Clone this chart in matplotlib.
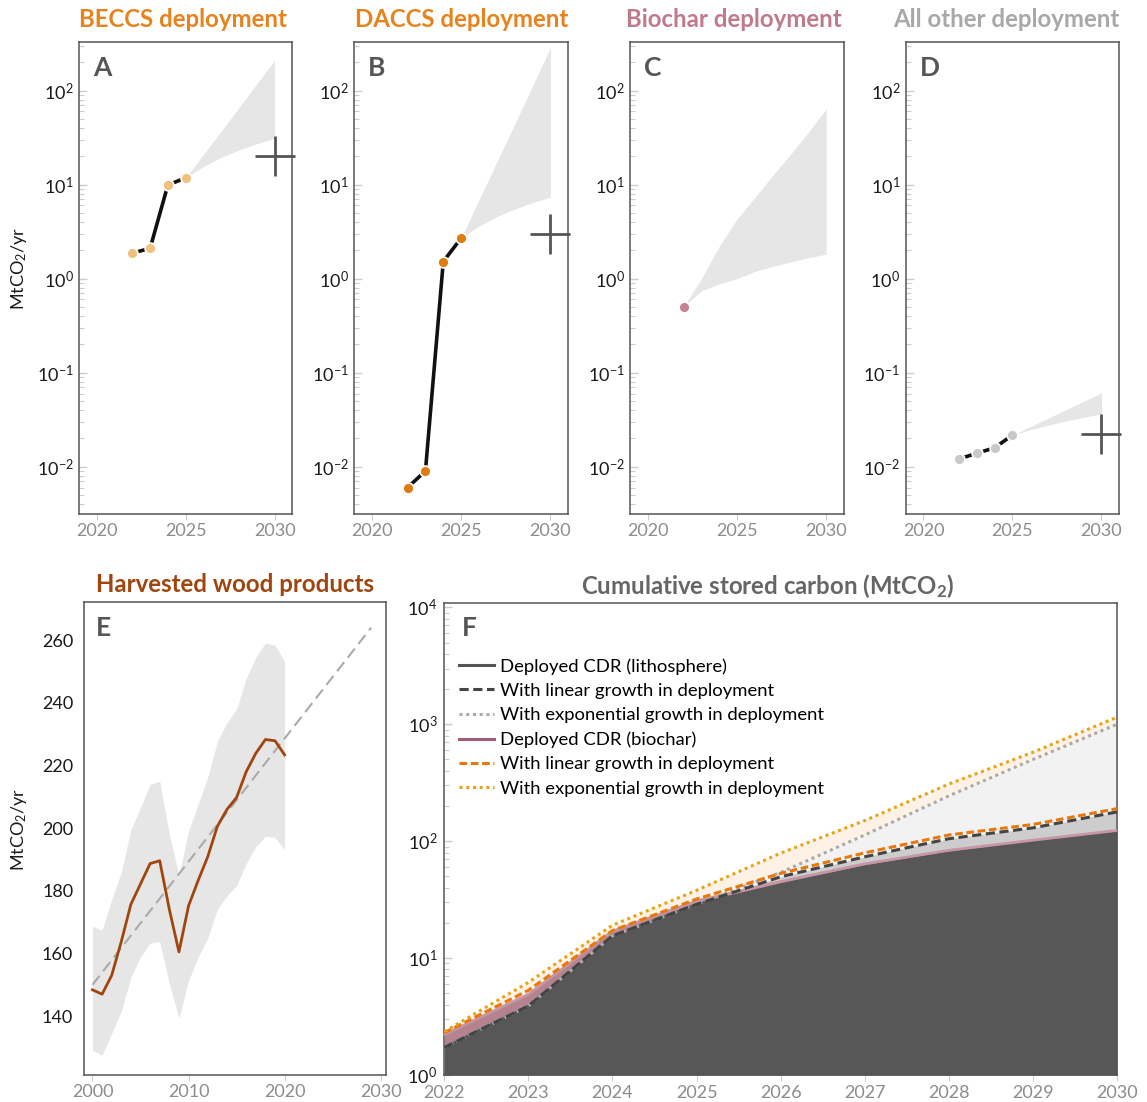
import numpy as np
import matplotlib
matplotlib.use('Agg')
import matplotlib.pyplot as plt
from matplotlib.ticker import LogLocator, NullFormatter
from matplotlib.lines import Line2D

plt.rcParams['font.family'] = ['Lato', 'DejaVu Sans']
plt.rcParams['mathtext.fontset'] = 'custom'
plt.rcParams['mathtext.rm'] = 'Lato'
plt.rcParams['mathtext.it'] = 'Lato:italic'
plt.rcParams['mathtext.bf'] = 'Lato:bold'

# ---------------- data ----------------
hist_years = [2022, 2023, 2024, 2025]
proj_years = [2025, 2026, 2027, 2028, 2029, 2030]
target_year = 2030

beccs_vals = [1.87, 2.1, 9.9, 11.8]
beccs_low = [11.8, 15.6, 19.5, 23.3, 27.2, 31.0]
beccs_high = [11.8, 21.0, 37.0, 66.0, 118.0, 209.0]
beccs_target = 20.0

daccs_vals = [0.0060, 0.0090, 1.52, 2.70]
daccs_low = [2.70, 3.63, 4.57, 5.5, 6.44, 7.37]
daccs_high = [2.70, 6.9, 17.4, 44.0, 113.0, 287.0]
daccs_target = 3.0

biochar_years = [2022]
biochar_vals = [0.5]
biochar_band_years = [2022, 2023, 2024, 2025, 2026, 2027, 2028, 2029, 2030]
biochar_low = [0.5, 0.74, 0.88, 1.0, 1.19, 1.35, 1.5, 1.67, 1.82]
biochar_high = [0.5, 1.0, 2.2, 4.3, 7.3, 12.5, 21.0, 36.0, 64.0]

other_vals = [0.0121, 0.0139, 0.0159, 0.0217]
other_low = [0.0217, 0.0247, 0.0276, 0.0306, 0.0335, 0.0365]
other_high = [0.0217, 0.0267, 0.0328, 0.0404, 0.0497, 0.0612]
other_target = 0.0221

hwp_years = list(range(2000, 2021))
hwp_vals = [148.4, 147.0, 153.0, 163.8, 175.7, 182.2, 188.7, 189.6, 174.1, 160.5, 175.2,
            183.3, 190.9, 200.6, 206.0, 209.8, 218.0, 223.9, 228.3, 227.9, 223.4]
hwp_high = [168.7, 167.4, 177.3, 186.0, 199.5, 206.6, 214.0, 215.0, 198.0, 185.0, 199.0,
            207.7, 216.3, 227.7, 233.7, 238.0, 247.8, 254.5, 259.1, 258.4, 253.2]
hwp_low = [129.1, 127.5, 134.5, 141.6, 152.4, 158.9, 163.3, 163.8, 150.3, 139.4, 151.3,
           158.9, 164.9, 174.1, 178.4, 181.7, 188.7, 194.1, 197.4, 197.1, 193.0]
trend_years = [2000, 2029]
trend_vals = [150.0, 264.0]

cum_years = [2022, 2023, 2024, 2025, 2026, 2027, 2028, 2029, 2030]
cum_lith = [1.72, 3.9, 15.5, 28.8, 42.7, 61.0, 80.0, 98.0, 119.0]
cum_biochar = [0.5, 1.0, 1.5, 2.0, 2.5, 3.0, 3.5, 4.0, 4.5]
cum_lith_linear = [1.72, 3.9, 15.5, 28.8, 49.6, 73.5, 105.0, 130.0, 178.0]
cum_lith_exp = [1.72, 3.9, 15.5, 28.8, 54.0, 113.0, 244.0, 500.0, 1000.0]
cum_total_linear = [2.3, 5.3, 17.2, 32.0, 53.0, 79.5, 113.0, 139.0, 190.0]
cum_total_exp = [2.35, 6.2, 19.1, 38.0, 79.0, 150.0, 308.0, 576.0, 1150.0]

# ---------------- style ----------------
SPINE = '#555555'
TICK = '#cccccc'
XLAB = '#8c8c8c'
YLAB = '#1a1a1a'
BAND = '#e6e6e6'
LETTER = '#555555'
TITLE_FS = 17.3

W, H = 1147, 1102
fig = plt.figure(figsize=(W / 100, H / 100), dpi=100)


def px_axes(l, t, r, b):
    return fig.add_axes([l / W, 1 - b / H, (r - l) / W, (b - t) / H])


def style_spines(ax):
    for s in ax.spines.values():
        s.set_color(SPINE)
        s.set_linewidth(1.1)


def style_top(ax):
    ax.set_yscale('log')
    ax.set_ylim(10 ** -2.5, 10 ** 2.52)
    ax.set_xlim(2019, 2031)
    ax.set_xticks([2020, 2025, 2030])
    ax.yaxis.set_major_locator(LogLocator(base=10, numticks=12))
    ax.yaxis.set_minor_locator(LogLocator(base=10, subs=np.arange(2, 10), numticks=30))
    ax.yaxis.set_minor_formatter(NullFormatter())
    ax.tick_params(axis='y', which='both', direction='in', color=TICK,
                   labelcolor=YLAB, labelsize=13, pad=4)
    ax.tick_params(axis='y', which='major', length=6, width=1)
    ax.tick_params(axis='y', which='minor', length=3.5, width=0.8)
    ax.tick_params(axis='x', direction='out', length=4, color=TICK,
                   labelcolor=XLAB, labelsize=13, pad=3)
    style_spines(ax)


def title(ax, txt, color, y=1.046, x=0.5):
    ax.text(x, y, txt, transform=ax.transAxes, ha='center', va='center',
            fontsize=TITLE_FS, fontweight='bold', color=color)


def letter(ax, txt, x=0.065, y=0.945):
    ax.text(x, y, txt, transform=ax.transAxes, ha='left', va='center',
            fontsize=19, fontweight='bold', color=LETTER)


def deployment_panel(ax, vals, low, high, target, mcolor, band_years=None):
    by = proj_years if band_years is None else band_years
    ax.fill_between(by, low, high, color=BAND, lw=0, zorder=1)
    yrs = hist_years[:len(vals)]
    if len(vals) > 1:
        ax.plot(yrs, vals, color='#111111', lw=2.6, zorder=2, solid_capstyle='butt')
    ax.plot(yrs, vals, ls='none', marker='o', ms=7.8, mfc=mcolor, mec='white',
            mew=1.2, zorder=3)
    if target is not None:
        ax.plot([target_year], [target], marker='+', ms=29, mew=2.0,
                color='#555555', ls='none', zorder=4, clip_on=False)


# Panel A
axA = px_axes(79, 41.7, 292.3, 513.7)
style_top(axA)
deployment_panel(axA, beccs_vals, beccs_low, beccs_high, beccs_target, '#f0c07e')
title(axA, 'BECCS deployment', '#e8821c', x=0.485)
letter(axA, 'A')
axA.set_ylabel('MtCO$_2$/yr', fontsize=13, color=YLAB)
axA.yaxis.set_label_coords(-0.235, 0.52)

# Panel B
axB = px_axes(354, 41.7, 568.3, 513.7)
style_top(axB)
deployment_panel(axB, daccs_vals, daccs_low, daccs_high, daccs_target, '#e07b10')
title(axB, 'DACCS deployment', '#e8821c')
letter(axB, 'B')

# Panel C
axC = px_axes(630, 41.7, 844, 513.7)
style_top(axC)
deployment_panel(axC, biochar_vals, biochar_low, biochar_high, None, '#c28595',
                 band_years=biochar_band_years)
title(axC, 'Biochar deployment', '#c07a8e', x=0.485)
letter(axC, 'C')

# Panel D
axD = px_axes(905.7, 41.7, 1119.3, 513.7)
style_top(axD)
deployment_panel(axD, other_vals, other_low, other_high, other_target, '#c8c8c8')
title(axD, 'All other deployment', '#a8a8a8', x=0.47)
letter(axD, 'D')

# Panel E
axE = px_axes(84.3, 602.3, 385.5, 1074.7)
axE.fill_between(hwp_years, hwp_low, hwp_high, color=BAND, lw=0, zorder=1)
tl, = axE.plot(trend_years, trend_vals, color='#aaaaaa', lw=1.5, zorder=2)
tl.set_dashes((5.5, 2.8))
axE.plot(hwp_years, hwp_vals, color='#a0450e', lw=2.0, zorder=3)
axE.set_xlim(1999.15, 2030.5)
axE.set_ylim(121.3, 272.1)
axE.set_xticks([2000, 2010, 2020, 2030])
axE.set_yticks([140, 160, 180, 200, 220, 240, 260])
axE.tick_params(axis='y', length=0, labelcolor=YLAB, labelsize=13, pad=8)
axE.tick_params(axis='x', direction='out', length=4, color=TICK,
                labelcolor=XLAB, labelsize=13, pad=3)
style_spines(axE)
title(axE, 'Harvested wood products', '#a0450e', y=1.037)
letter(axE, 'E', x=0.038, y=0.946)
axE.set_ylabel('MtCO$_2$/yr', fontsize=13, color=YLAB)
axE.yaxis.set_label_coords(-0.185, 0.52)

# Panel F
axF = px_axes(444.3, 602.7, 1117, 1075)
axF.set_yscale('log')
lith = np.array(cum_lith)
total_dep = lith + np.array(cum_biochar)
axF.fill_between(cum_years, 1, cum_total_exp, color='#fdf2e5', lw=0, zorder=1)
axF.fill_between(cum_years, 1, cum_lith_exp, color='#f2f2f2', lw=0, zorder=1)
axF.fill_between(cum_years, 1, cum_lith_linear, color='#cdcdcd', lw=0, zorder=1)
axF.fill_between(cum_years, lith, total_dep, color='#b5838f', lw=0, zorder=2)
axF.fill_between(cum_years, 1, lith, color='#575757', lw=0, zorder=2)
axF.plot(cum_years, lith, color='#555555', lw=1.5, zorder=3)
axF.plot(cum_years, total_dep, color='#c497a3', lw=2.0, zorder=3)

sty_gdot = dict(color='#aaaaaa', lw=2.2, ls=(0, (1, 1.2)))
sty_gdash = dict(color='#444444', lw=2.2, ls=(0, (3, 1.5)))
sty_odash = dict(color='#e8780c', lw=2.2, ls=(0, (2.5, 1.2)))
sty_odot = dict(color='#e8a317', lw=2.2, ls=(0, (1, 1.2)))
axF.plot(cum_years, cum_lith_exp, zorder=4, **sty_gdot)
axF.plot(cum_years, cum_lith_linear, zorder=4, **sty_gdash)
axF.plot(cum_years, cum_total_linear, zorder=5, **sty_odash)
axF.plot(cum_years, cum_total_exp, zorder=5, **sty_odot)

axF.set_xlim(2022, 2030)
axF.set_ylim(1, 10 ** 4.04)
axF.set_xticks(cum_years)
axF.yaxis.set_major_locator(LogLocator(base=10, numticks=12))
axF.yaxis.set_minor_locator(LogLocator(base=10, subs=np.arange(2, 10), numticks=30))
axF.yaxis.set_minor_formatter(NullFormatter())
axF.tick_params(axis='y', which='both', direction='in', color=TICK,
                labelcolor=YLAB, labelsize=13, pad=5)
axF.tick_params(axis='y', which='major', length=6, width=1)
axF.tick_params(axis='y', which='minor', length=3.5, width=0.8)
axF.tick_params(axis='x', direction='out', length=4, color=TICK,
                labelcolor=XLAB, labelsize=13, pad=3)
style_spines(axF)
axF.text(0.48, 1.035, r'Cumulative stored carbon (MtCO$_{\mathbf{2}}$)',
         transform=axF.transAxes, ha='center', va='center', fontsize=TITLE_FS,
         fontweight='bold', color='#666666')
letter(axF, 'F', x=0.026, y=0.946)

handles = [
    Line2D([], [], color='#555555', lw=2.2),
    Line2D([], [], **sty_gdash),
    Line2D([], [], **sty_gdot),
    Line2D([], [], color='#a45a72', lw=2.2),
    Line2D([], [], **sty_odash),
    Line2D([], [], **sty_odot),
]
labels = ['Deployed CDR (lithosphere)', 'With linear growth in deployment',
          'With exponential growth in deployment', 'Deployed CDR (biochar)',
          'With linear growth in deployment', 'With exponential growth in deployment']
axF.legend(handles, labels, loc='upper left', bbox_to_anchor=(0.0213, 0.883),
           frameon=False, fontsize=13.3, handlelength=1.9, handletextpad=0.35,
           labelspacing=0.45, borderaxespad=0, borderpad=0)

fig.savefig('out.png', dpi=100)
